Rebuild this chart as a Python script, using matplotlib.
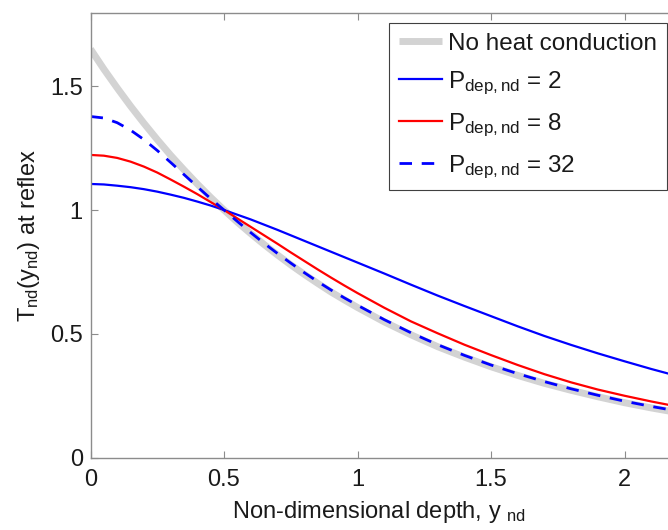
import matplotlib
matplotlib.use("Agg")
import matplotlib.pyplot as plt
from matplotlib.ticker import FuncFormatter

plt.rcParams['font.family'] = ['Liberation Sans', 'DejaVu Sans']
plt.rcParams['mathtext.fontset'] = 'custom'
plt.rcParams['mathtext.rm'] = 'Liberation Sans'
plt.rcParams['mathtext.it'] = 'Liberation Sans'
plt.rcParams['mathtext.bf'] = 'Liberation Sans:bold'

# depth values
y_nd = [0.0, 0.05, 0.1, 0.15, 0.2, 0.25, 0.3, 0.35, 0.4, 0.45, 0.5, 0.55,
        0.6, 0.65, 0.7, 0.75, 0.8, 0.85, 0.9, 0.95, 1.0, 1.1, 1.2, 1.3,
        1.4, 1.5, 1.6, 1.7, 1.8, 1.9, 2.0, 2.1, 2.2]

no_conduction = [1.649, 1.568, 1.492, 1.419, 1.350, 1.284, 1.221, 1.162,
                 1.105, 1.051, 1.000, 0.951, 0.905, 0.861, 0.819, 0.779,
                 0.741, 0.705, 0.670, 0.638, 0.607, 0.549, 0.497, 0.449,
                 0.407, 0.368, 0.333, 0.301, 0.273, 0.247, 0.223, 0.202, 0.183]
p2 = [1.105, 1.103, 1.098, 1.092, 1.084, 1.074, 1.062, 1.049, 1.034,
      1.018, 1.000, 0.981, 0.962, 0.941, 0.920, 0.898, 0.876, 0.854,
      0.832, 0.810, 0.788, 0.744, 0.699, 0.655, 0.613, 0.572, 0.531,
      0.492, 0.456, 0.422, 0.390, 0.359, 0.330]
p8 = [1.222, 1.219, 1.210, 1.195, 1.175, 1.151, 1.123, 1.094, 1.064,
      1.032, 1.000, 0.966, 0.932, 0.898, 0.864, 0.829, 0.795, 0.761,
      0.728, 0.696, 0.665, 0.606, 0.551, 0.503, 0.457, 0.415, 0.375,
      0.338, 0.305, 0.276, 0.251, 0.228, 0.207]
p32 = [1.377, 1.371, 1.352, 1.322, 1.284, 1.240, 1.192, 1.143, 1.094,
       1.046, 1.000, 0.954, 0.909, 0.866, 0.825, 0.786, 0.748, 0.712,
       0.678, 0.646, 0.616, 0.558, 0.505, 0.457, 0.414, 0.375, 0.340,
       0.308, 0.279, 0.253, 0.229, 0.208, 0.189]

labels = ["No heat conduction",
          r"P$_{\mathrm{dep,nd}}$ = 2",
          r"P$_{\mathrm{dep,nd}}$ = 8",
          r"P$_{\mathrm{dep,nd}}$ = 32"]

xticks = [0, 0.5, 1, 1.5, 2]
yticks = [0, 0.5, 1, 1.5]

W, H = 668, 530
fig = plt.figure(figsize=(W / 100, H / 100), dpi=100)
left, right, top, bottom = 90.5, 668, 13, 458
ax = fig.add_axes([left / W, 1 - bottom / H, (right - left) / W, (bottom - top) / H])

ax.plot(y_nd, no_conduction, color='#d3d3d3', lw=5, label=labels[0], solid_capstyle='butt')
ax.plot(y_nd, p2, color='#0000ff', lw=1.6, label=labels[1])
ax.plot(y_nd, p8, color='#ff0000', lw=1.6, label=labels[2])
ax.plot(y_nd, p32, color='#0000ff', lw=2.0, ls=(0, (4.5, 3.5)), label=labels[3])

ax.set_xlim(0, (right - left) / 267.0)
ax.set_ylim(0, (bottom - top) / 248.0)
ax.set_xticks(xticks)
ax.set_yticks(yticks)
fmt = FuncFormatter(lambda v, p: ('%g' % v))
ax.xaxis.set_major_formatter(fmt)
ax.yaxis.set_major_formatter(fmt)

spine_c = '#8c8c8c'
for s in ['left', 'bottom', 'top']:
    ax.spines[s].set_color(spine_c)
    ax.spines[s].set_linewidth(1.0)
ax.spines['right'].set_visible(False)
ax.tick_params(direction='in', length=5, width=0.8, color=spine_c,
               labelsize=17, top=True, right=False, labelcolor='#1a1a1a')
ax.tick_params(axis='x', pad=8)
ax.tick_params(axis='y', pad=5.5)

ax.set_xlabel(r"Non-dimensional depth, y $_{\mathrm{nd}}$", fontsize=17, color='#1a1a1a', labelpad=6)
ax.set_ylabel(r"T$_{\mathrm{nd}}$(y$_{\mathrm{nd}}$) at reflex", fontsize=17, color='#1a1a1a', labelpad=6)

leg = ax.legend(loc='upper right', bbox_to_anchor=(1 - 1.5 / (right - left), 1 - 10 / (bottom - top)),
                borderaxespad=0, fontsize=17.5, fancybox=False, framealpha=1,
                edgecolor='#404040', handlelength=1.75, handletextpad=0.25,
                labelspacing=0.6, borderpad=0.4)
leg.get_frame().set_linewidth(0.8)
for t in leg.get_texts():
    t.set_color('#1a1a1a')

fig.savefig("out.png", dpi=100)
